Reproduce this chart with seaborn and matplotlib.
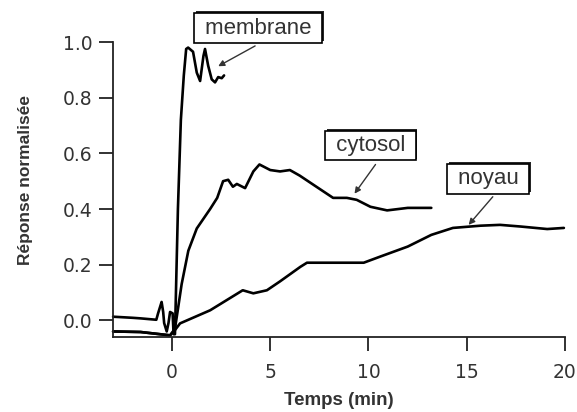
import matplotlib
matplotlib.use("Agg")
import matplotlib.pyplot as plt
import matplotlib.patheffects as pe
import pandas as pd
import seaborn as sns

# valeurs (temps en min, réponse normalisée)
t_membrane = [-3, -2, -1.6, -0.8, -0.71, -0.6, -0.53, -0.45, -0.4, -0.27, -0.18, -0.1, 0.03, 0.08,
              0.15, 0.3, 0.45, 0.6, 0.72, 0.82, 1.07, 1.26, 1.43, 1.6, 1.68, 1.84, 2.02, 2.19, 2.35, 2.53, 2.65]
r_membrane = [0.013, 0.009, 0.007, 0.002, 0.025, 0.05, 0.066, 0.03, -0.01, -0.04, -0.01, 0.03, 0.025, -0.05,
              -0.05, 0.4, 0.72, 0.88, 0.975, 0.98, 0.965, 0.89, 0.86, 0.95, 0.975, 0.915, 0.866, 0.855, 0.874, 0.87, 0.88]

t_cytosol = [-3, -1.6, -0.1, 0.15, 0.3, 0.49, 0.83, 1.26, 1.94, 2.3, 2.6, 2.86, 3.1, 3.3, 3.72, 4.14, 4.45,
             5.0, 5.5, 6.0, 6.5, 7.2, 8.2, 8.9, 9.4, 10.1, 10.95, 12.0, 13.2]
r_cytosol = [-0.04, -0.042, -0.054, -0.03, 0.04, 0.13, 0.25, 0.33, 0.40, 0.44, 0.50, 0.505, 0.48, 0.49, 0.475,
             0.535, 0.56, 0.54, 0.535, 0.54, 0.52, 0.487, 0.44, 0.44, 0.433, 0.408, 0.395, 0.404, 0.404]

t_noyau = [-3, -1.6, -0.1, 0.15, 0.41, 1.94, 3.6, 4.14, 4.83, 5.5, 6.53, 6.87, 9.76, 10.6, 12.0, 13.2,
           14.3, 15.7, 16.7, 17.75, 19.1, 19.95]
r_noyau = [-0.04, -0.042, -0.054, -0.035, -0.011, 0.036, 0.108, 0.097, 0.108, 0.14, 0.192, 0.207, 0.207,
           0.229, 0.265, 0.307, 0.332, 0.34, 0.343, 0.337, 0.328, 0.332]

series = ["membrane", "cytosol", "noyau"]
x_ticks = [0, 5, 10, 15, 20]
y_ticks = [0.0, 0.2, 0.4, 0.6, 0.8, 1.0]

df = pd.concat([
    pd.DataFrame({"t": t_membrane, "r": r_membrane, "s": "membrane"}),
    pd.DataFrame({"t": t_cytosol, "r": r_cytosol, "s": "cytosol"}),
    pd.DataFrame({"t": t_noyau, "r": r_noyau, "s": "noyau"}),
])

sns.set_style("ticks")
plt.rcParams["font.family"] = ["Liberation Sans", "DejaVu Sans"]
txt = "#333333"

fig, ax = plt.subplots(figsize=(5.77, 4.12), dpi=100)
fig.subplots_adjust(left=0.196, right=0.979, bottom=0.182, top=0.898)

sns.lineplot(data=df, x="t", y="r", hue="s", units="s", estimator=None, sort=False,
             palette={s: "black" for s in series}, legend=False, lw=1.9, ax=ax)
for line in ax.lines:
    line.set_clip_on(False)

ax.set_xlim(-3, 20)
ax.set_ylim(-0.06, 1.0)
ax.set_xticks(x_ticks)
ax.set_yticks(y_ticks)
ax.set_yticklabels([f"{v:.1f}" for v in y_ticks])
sns.despine(ax=ax)
for sp in ["left", "bottom"]:
    ax.spines[sp].set_color("#222222")
    ax.spines[sp].set_linewidth(1.3)
ax.tick_params(axis="both", direction="out", length=10, width=1.3, color="#222222",
               labelcolor=txt, labelsize=13.5)
ax.tick_params(axis="y", pad=5)
ax.tick_params(axis="x", pad=9)
for lab in ax.get_xticklabels() + ax.get_yticklabels():
    lab.set_family("DejaVu Sans")

ax.set_xlabel("Temps (min)", fontsize=13.5, fontweight="bold", color=txt, labelpad=7)
ax.set_ylabel("Réponse normalisée", fontsize=12.5, fontweight="bold", color=txt)
ax.yaxis.set_label_coords(-0.178, 0.532)

# étiquettes encadrées avec flèches
labels = {
    "membrane": ((4.39, 1.05), (4.23, 0.986), (2.35, 0.913)),
    "cytosol": ((10.1, 0.628), (10.36, 0.56), (9.29, 0.455)),
    "noyau": ((16.1, 0.509), (16.33, 0.444), (15.1, 0.343)),
}
for name, (pos, start, tip) in labels.items():
    t = ax.text(pos[0], pos[1], f" {name} ", ha="center", va="center", fontsize=16, color=txt,
                zorder=5, clip_on=False,
                bbox=dict(boxstyle="square,pad=0.2", fc="white", ec="black", lw=1.2))
    t.get_bbox_patch().set_path_effects([
        pe.SimplePatchShadow(offset=(1.3, 1.3), shadow_rgbFace="black", alpha=0.85),
        pe.Normal(),
    ])
    ax.annotate("", xy=tip, xytext=start, annotation_clip=False,
                arrowprops=dict(arrowstyle="-|>", color="#333333", lw=1.0,
                                mutation_scale=9, shrinkA=0, shrinkB=0))

fig.savefig("out.png", dpi=100)
